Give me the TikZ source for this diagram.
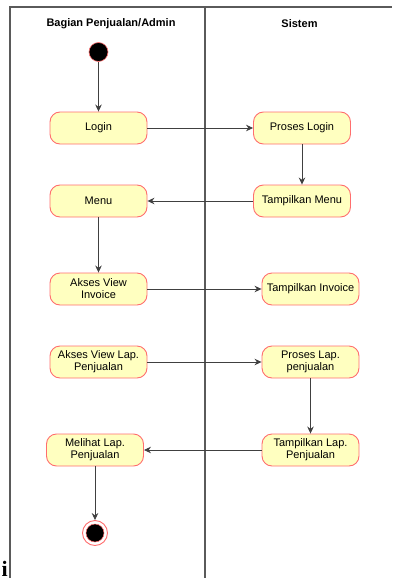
\documentclass[tikz,border=0pt]{standalone}
\usepackage{fontspec}
\setmainfont{Liberation Sans}
\newfontfamily\hurufserif{Liberation Serif}
\usetikzlibrary{arrows.meta}
\definecolor{isiakt}{HTML}{FFFFC0}
\definecolor{garisakt}{HTML}{FF6E6E}
\definecolor{garisalur}{HTML}{404040}
\definecolor{garislajur}{HTML}{5A5A5A}

\begin{document}
\begin{tikzpicture}[x=1pt, y=-1pt,
    aktivitas/.style={draw=garisakt, fill=isiakt, line width=0.9pt, rounded corners=10pt,
        minimum width=97pt, minimum height=32pt, inner sep=1pt, align=center,
        font=\fontsize{11}{12}\selectfont},
    alur/.style={draw=garisalur, line width=0.8pt, -{Stealth[length=7pt,width=6.5pt]}},
    lajur/.style={draw=garislajur, line width=1.2pt},
    judul/.style={font=\fontsize{11}{12}\selectfont\bfseries}]
    \useasboundingbox (0,0) rectangle (392,578);

    % lajur (swimlane)
    \draw[lajur] (10,578) -- (10,7) -- (392,7);
    \draw[lajur] (205,7) -- (205,578);
    \node[judul] (judulkiri) at (111,24) {Bagian Penjualan/Admin};
    \node[judul] (judulkanan) at (299.5,24) {Sistem};

    % titik awal dan akhir
    \node[circle, fill=black, draw=garisakt, line width=0.6pt, minimum size=19pt, inner sep=0pt] (mulai) at (98.5,52) {};
    \node[circle, draw=garisakt, line width=0.9pt, minimum size=25pt, inner sep=0pt] (selesai) at (95,533) {};
    \draw[garisakt, line width=0.5pt, fill=black] (selesai.center) circle (9pt);

    % aktivitas admin
    \node[aktivitas] (login) at (98.5,128) {Login};
    \node[aktivitas] (menu) at (98.5,201) {Menu};
    \node[aktivitas] (aksesinv) at (98.5,289) {Akses View\\Invoice};
    \node[aktivitas] (akseslap) at (98.5,362) {Akses View Lap.\\Penjualan};
    \node[aktivitas] (melihat) at (95,450) {Melihat Lap.\\Penjualan};

    % aktivitas sistem
    \node[aktivitas] (proseslogin) at (302,128) {Proses Login};
    \node[aktivitas] (tampilmenu) at (302,201) {Tampilkan Menu};
    \node[aktivitas] (tampilinv) at (310.5,289) {Tampilkan Invoice};
    \node[aktivitas] (proseslap) at (310.5,362) {Proses Lap.\\penjualan};
    \node[aktivitas] (tampillap) at (310.5,450) {Tampilkan Lap.\\Penjualan};

    % alur
    \draw[alur] (mulai) -- (login);
    \draw[alur] (login) -- (proseslogin);
    \draw[alur] (proseslogin) -- (tampilmenu);
    \draw[alur] (tampilmenu) -- (menu);
    \draw[alur] (menu) -- (aksesinv);
    \draw[alur] (aksesinv) -- (tampilinv);
    \draw[alur] (akseslap) -- (proseslap);
    \draw[alur] (proseslap) -- (tampillap);
    \draw[alur] (tampillap) -- (melihat);
    \draw[alur] (melihat) -- (selesai);

    \node[font=\hurufserif\fontsize{22}{22}\selectfont\bfseries, anchor=base west, inner sep=0pt] (hurufi) at (1.5,576) {i};
\end{tikzpicture}
\end{document}
